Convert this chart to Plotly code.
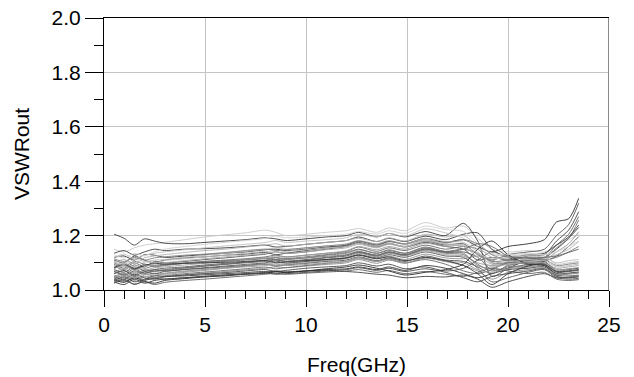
import plotly.graph_objects as go

freq_ghz = [0.5, 1.0, 1.5, 2.0, 2.5, 3.0, 4, 5, 6, 7, 8, 8.5, 9, 10, 11, 12, 12.6, 13.5, 14.1, 14.9, 15.9, 16.9, 17.8, 18.5, 19.2, 20, 21, 21.8, 22.4, 23, 23.5]

vswr_01 = [1.150, 1.140, 1.155, 1.165, 1.170, 1.175, 1.185, 1.195, 1.203, 1.210, 1.220, 1.212, 1.200, 1.205, 1.212, 1.218, 1.226, 1.212, 1.228, 1.218, 1.248, 1.228, 1.235, 1.190, 1.150, 1.140, 1.145, 1.140, 1.165, 1.185, 1.205]
vswr_02 = [1.205, 1.190, 1.165, 1.188, 1.180, 1.172, 1.170, 1.175, 1.180, 1.185, 1.192, 1.188, 1.182, 1.188, 1.195, 1.200, 1.212, 1.195, 1.208, 1.195, 1.215, 1.200, 1.245, 1.180, 1.050, 1.080, 1.110, 1.120, 1.150, 1.190, 1.230]
vswr_03 = [1.120, 1.125, 1.110, 1.130, 1.128, 1.120, 1.125, 1.130, 1.135, 1.140, 1.148, 1.150, 1.145, 1.150, 1.158, 1.165, 1.180, 1.165, 1.178, 1.170, 1.190, 1.175, 1.185, 1.160, 1.140, 1.160, 1.170, 1.185, 1.250, 1.262, 1.337]
vswr_04 = [1.095, 1.080, 1.100, 1.085, 1.105, 1.100, 1.105, 1.112, 1.118, 1.125, 1.132, 1.140, 1.135, 1.140, 1.150, 1.160, 1.172, 1.158, 1.170, 1.160, 1.180, 1.165, 1.170, 1.130, 1.110, 1.130, 1.140, 1.150, 1.200, 1.240, 1.319]
vswr_05 = [1.110, 1.100, 1.125, 1.110, 1.100, 1.110, 1.118, 1.122, 1.128, 1.132, 1.138, 1.130, 1.135, 1.145, 1.155, 1.162, 1.175, 1.160, 1.172, 1.158, 1.175, 1.160, 1.150, 1.110, 1.120, 1.110, 1.125, 1.130, 1.180, 1.220, 1.288]
vswr_06 = [1.080, 1.090, 1.075, 1.095, 1.085, 1.090, 1.098, 1.105, 1.110, 1.115, 1.122, 1.128, 1.122, 1.128, 1.135, 1.142, 1.158, 1.142, 1.155, 1.145, 1.165, 1.150, 1.160, 1.150, 1.100, 1.100, 1.115, 1.120, 1.165, 1.205, 1.270]
vswr_07 = [1.060, 1.070, 1.055, 1.075, 1.068, 1.072, 1.080, 1.088, 1.095, 1.102, 1.110, 1.118, 1.112, 1.118, 1.128, 1.135, 1.148, 1.135, 1.148, 1.135, 1.155, 1.140, 1.135, 1.090, 1.080, 1.105, 1.110, 1.115, 1.155, 1.190, 1.257]
vswr_08 = [1.135, 1.145, 1.128, 1.140, 1.150, 1.145, 1.150, 1.152, 1.155, 1.160, 1.165, 1.158, 1.160, 1.168, 1.175, 1.182, 1.195, 1.178, 1.190, 1.178, 1.198, 1.185, 1.205, 1.210, 1.150, 1.120, 1.130, 1.135, 1.165, 1.195, 1.239]
vswr_09 = [1.045, 1.060, 1.040, 1.055, 1.062, 1.058, 1.065, 1.072, 1.080, 1.088, 1.095, 1.100, 1.098, 1.105, 1.112, 1.120, 1.135, 1.122, 1.135, 1.125, 1.145, 1.130, 1.125, 1.100, 1.090, 1.095, 1.105, 1.110, 1.140, 1.170, 1.214]
vswr_10 = [1.070, 1.058, 1.078, 1.062, 1.075, 1.080, 1.085, 1.092, 1.098, 1.102, 1.108, 1.112, 1.105, 1.110, 1.118, 1.125, 1.138, 1.125, 1.138, 1.128, 1.150, 1.138, 1.140, 1.120, 1.075, 1.080, 1.095, 1.105, 1.125, 1.160, 1.196]
vswr_11 = [1.100, 1.112, 1.095, 1.118, 1.125, 1.130, 1.138, 1.145, 1.150, 1.158, 1.165, 1.170, 1.162, 1.168, 1.175, 1.182, 1.190, 1.178, 1.192, 1.180, 1.205, 1.195, 1.200, 1.160, 1.120, 1.115, 1.120, 1.118, 1.130, 1.150, 1.178]
vswr_12 = [1.088, 1.075, 1.092, 1.080, 1.090, 1.095, 1.100, 1.105, 1.108, 1.112, 1.118, 1.112, 1.115, 1.122, 1.130, 1.138, 1.150, 1.135, 1.145, 1.135, 1.158, 1.142, 1.150, 1.135, 1.105, 1.110, 1.118, 1.110, 1.120, 1.140, 1.160]
vswr_13 = [1.030, 1.020, 1.040, 1.025, 1.035, 1.040, 1.045, 1.050, 1.055, 1.060, 1.065, 1.070, 1.066, 1.070, 1.075, 1.078, 1.085, 1.075, 1.085, 1.072, 1.090, 1.080, 1.060, 1.045, 1.060, 1.075, 1.080, 1.085, 1.055, 1.060, 1.065]
vswr_14 = [1.040, 1.055, 1.035, 1.050, 1.045, 1.050, 1.056, 1.062, 1.068, 1.074, 1.080, 1.085, 1.082, 1.088, 1.094, 1.100, 1.112, 1.098, 1.110, 1.098, 1.118, 1.105, 1.090, 1.070, 1.040, 1.065, 1.075, 1.080, 1.050, 1.045, 1.050]
vswr_15 = [1.050, 1.040, 1.058, 1.045, 1.040, 1.048, 1.055, 1.060, 1.064, 1.070, 1.075, 1.068, 1.072, 1.080, 1.085, 1.090, 1.100, 1.088, 1.095, 1.078, 1.085, 1.070, 1.080, 1.110, 1.140, 1.120, 1.100, 1.105, 1.070, 1.075, 1.080]
vswr_16 = [1.065, 1.078, 1.060, 1.072, 1.082, 1.085, 1.092, 1.098, 1.105, 1.112, 1.118, 1.125, 1.120, 1.128, 1.135, 1.145, 1.160, 1.148, 1.160, 1.150, 1.172, 1.160, 1.165, 1.130, 1.095, 1.100, 1.105, 1.100, 1.080, 1.085, 1.090]
vswr_17 = [1.025, 1.035, 1.022, 1.030, 1.020, 1.028, 1.035, 1.040, 1.046, 1.052, 1.058, 1.062, 1.058, 1.062, 1.066, 1.070, 1.075, 1.065, 1.072, 1.060, 1.068, 1.058, 1.050, 1.065, 1.080, 1.070, 1.060, 1.065, 1.040, 1.035, 1.038]
vswr_18 = [1.120, 1.132, 1.115, 1.128, 1.135, 1.140, 1.148, 1.155, 1.162, 1.168, 1.175, 1.182, 1.175, 1.180, 1.185, 1.192, 1.205, 1.195, 1.208, 1.198, 1.225, 1.210, 1.190, 1.150, 1.130, 1.125, 1.130, 1.125, 1.095, 1.100, 1.105]
vswr_19 = [1.075, 1.065, 1.085, 1.070, 1.060, 1.068, 1.075, 1.080, 1.085, 1.090, 1.095, 1.088, 1.092, 1.098, 1.105, 1.110, 1.122, 1.108, 1.118, 1.105, 1.125, 1.110, 1.105, 1.085, 1.060, 1.090, 1.100, 1.095, 1.065, 1.068, 1.072]
vswr_20 = [1.055, 1.048, 1.065, 1.058, 1.052, 1.060, 1.068, 1.075, 1.082, 1.088, 1.095, 1.090, 1.094, 1.100, 1.108, 1.115, 1.128, 1.115, 1.125, 1.112, 1.132, 1.118, 1.115, 1.125, 1.110, 1.090, 1.085, 1.090, 1.060, 1.058, 1.062]
vswr_21 = [1.035, 1.048, 1.030, 1.040, 1.052, 1.050, 1.052, 1.056, 1.060, 1.064, 1.068, 1.062, 1.066, 1.070, 1.072, 1.068, 1.065, 1.058, 1.055, 1.045, 1.050, 1.048, 1.055, 1.040, 1.010, 1.030, 1.050, 1.060, 1.045, 1.040, 1.042]
vswr_22 = [1.090, 1.100, 1.085, 1.102, 1.110, 1.112, 1.120, 1.128, 1.135, 1.142, 1.150, 1.155, 1.150, 1.155, 1.162, 1.170, 1.182, 1.170, 1.182, 1.170, 1.190, 1.178, 1.175, 1.140, 1.100, 1.105, 1.112, 1.108, 1.085, 1.090, 1.095]
vswr_23 = [1.045, 1.032, 1.050, 1.038, 1.045, 1.052, 1.060, 1.066, 1.072, 1.078, 1.084, 1.078, 1.082, 1.090, 1.098, 1.105, 1.118, 1.105, 1.115, 1.100, 1.112, 1.095, 1.070, 1.060, 1.075, 1.100, 1.095, 1.092, 1.055, 1.052, 1.055]
vswr_24 = [1.100, 1.088, 1.105, 1.095, 1.088, 1.092, 1.098, 1.102, 1.106, 1.110, 1.115, 1.120, 1.115, 1.118, 1.124, 1.130, 1.142, 1.128, 1.140, 1.128, 1.148, 1.135, 1.130, 1.095, 1.070, 1.085, 1.090, 1.100, 1.075, 1.078, 1.082]
vswr_25 = [1.038, 1.028, 1.045, 1.032, 1.025, 1.035, 1.042, 1.048, 1.052, 1.058, 1.062, 1.068, 1.064, 1.070, 1.078, 1.085, 1.092, 1.080, 1.070, 1.055, 1.065, 1.075, 1.095, 1.150, 1.180, 1.130, 1.095, 1.090, 1.060, 1.062, 1.066]
vswr_26 = [1.078, 1.090, 1.072, 1.085, 1.095, 1.100, 1.108, 1.115, 1.122, 1.128, 1.135, 1.140, 1.135, 1.140, 1.148, 1.155, 1.168, 1.155, 1.168, 1.158, 1.180, 1.168, 1.160, 1.120, 1.085, 1.095, 1.100, 1.098, 1.070, 1.072, 1.075]
vswr_27 = [1.060, 1.072, 1.052, 1.068, 1.075, 1.070, 1.076, 1.082, 1.088, 1.094, 1.100, 1.106, 1.100, 1.105, 1.112, 1.118, 1.130, 1.118, 1.130, 1.120, 1.140, 1.125, 1.120, 1.080, 1.030, 1.045, 1.065, 1.075, 1.045, 1.048, 1.052]
vswr_28 = [1.130, 1.118, 1.135, 1.125, 1.140, 1.150, 1.160, 1.168, 1.175, 1.182, 1.190, 1.198, 1.192, 1.195, 1.200, 1.205, 1.215, 1.205, 1.218, 1.208, 1.235, 1.222, 1.215, 1.170, 1.135, 1.130, 1.135, 1.130, 1.140, 1.160, 1.180]
vswr_29 = [1.028, 1.040, 1.020, 1.035, 1.042, 1.040, 1.045, 1.050, 1.055, 1.058, 1.062, 1.058, 1.060, 1.065, 1.070, 1.075, 1.082, 1.072, 1.080, 1.068, 1.078, 1.065, 1.045, 1.030, 1.050, 1.060, 1.070, 1.078, 1.050, 1.045, 1.048]
vswr_30 = [1.115, 1.105, 1.120, 1.110, 1.118, 1.122, 1.128, 1.132, 1.138, 1.145, 1.150, 1.145, 1.148, 1.155, 1.162, 1.168, 1.180, 1.168, 1.180, 1.168, 1.185, 1.172, 1.185, 1.170, 1.130, 1.110, 1.108, 1.112, 1.090, 1.095, 1.100]
vswr_31 = [1.050, 1.062, 1.045, 1.060, 1.055, 1.062, 1.070, 1.076, 1.080, 1.085, 1.090, 1.095, 1.090, 1.094, 1.100, 1.105, 1.115, 1.105, 1.112, 1.100, 1.118, 1.105, 1.100, 1.075, 1.065, 1.078, 1.085, 1.082, 1.058, 1.060, 1.064]
vswr_32 = [1.082, 1.095, 1.078, 1.090, 1.098, 1.095, 1.098, 1.100, 1.102, 1.105, 1.108, 1.100, 1.104, 1.108, 1.112, 1.118, 1.128, 1.115, 1.122, 1.108, 1.120, 1.108, 1.090, 1.060, 1.020, 1.060, 1.088, 1.095, 1.068, 1.070, 1.075]
vswr_33 = [1.105, 1.095, 1.112, 1.105, 1.100, 1.108, 1.115, 1.122, 1.128, 1.135, 1.142, 1.138, 1.142, 1.148, 1.155, 1.160, 1.172, 1.160, 1.172, 1.160, 1.182, 1.170, 1.165, 1.135, 1.115, 1.120, 1.125, 1.120, 1.100, 1.108, 1.112]
vswr_34 = [1.068, 1.055, 1.070, 1.062, 1.070, 1.075, 1.082, 1.088, 1.094, 1.100, 1.105, 1.110, 1.106, 1.112, 1.120, 1.128, 1.140, 1.128, 1.140, 1.130, 1.152, 1.140, 1.150, 1.170, 1.160, 1.125, 1.118, 1.120, 1.125, 1.138, 1.150]

all_curves = [vswr_01, vswr_02, vswr_03, vswr_04, vswr_05, vswr_06, vswr_07, vswr_08, vswr_09, vswr_10,
              vswr_11, vswr_12, vswr_13, vswr_14, vswr_15, vswr_16, vswr_17, vswr_18, vswr_19, vswr_20,
              vswr_21, vswr_22, vswr_23, vswr_24, vswr_25, vswr_26, vswr_27, vswr_28, vswr_29, vswr_30,
              vswr_31, vswr_32, vswr_33, vswr_34]

line_colors = ["#c8c8c8", "#3a3a3a", "#2e2e2e", "#555555", "#444444", "#666666", "#777777", "#3c3c3c", "#999999", "#5a5a5a",
               "#b0b0b0", "#707070", "#333333", "#888888", "#4a4a4a", "#a0a0a0", "#606060", "#c0c0c0", "#505050", "#909090",
               "#3f3f3f", "#b8b8b8", "#686868", "#7a7a7a", "#2a2a2a", "#a8a8a8", "#585858", "#d0d0d0", "#484848", "#808080",
               "#9a9a9a", "#353535", "#bcbcbc", "#626262"]

FONT = "Liberation Sans, Arial, sans-serif"

fig = go.Figure()
for ys, col in zip(all_curves, line_colors):
    fig.add_trace(go.Scatter(x=freq_ghz, y=ys, mode="lines",
                             line=dict(color=col, width=0.9, shape="spline", smoothing=0.8),
                             showlegend=False, hoverinfo="skip"))

fig.add_shape(type="line", xref="x", yref="y", x0=25, x1=25, y0=1.0, y1=2.0,
              line=dict(color="#8a8a8a", width=2), layer="above")

fig.update_layout(
    width=634, height=377,
    margin=dict(l=104, r=25, t=18, b=87, autoexpand=False),
    paper_bgcolor="white", plot_bgcolor="white",
    font=dict(family=FONT, size=21, color="black"),
    xaxis=dict(range=[0, 25], tickmode="linear", tick0=0, dtick=5, automargin=False,
               ticks="outside", ticklen=16, tickwidth=1, tickcolor="black",
               showline=True, linecolor="black", linewidth=1, mirror=True,
               showgrid=True, gridcolor="#c4c4c4", gridwidth=1, zeroline=False,
               minor=dict(tickmode="linear", dtick=1, ticks="outside", ticklen=8, tickcolor="black", showgrid=False),
               tickfont=dict(size=21, family=FONT, color="black"),
               title=dict(text="Freq(GHz)", font=dict(size=21, family=FONT, color="black"), standoff=22)),
    yaxis=dict(range=[1.0, 2.0], tickmode="linear", tick0=1.0, dtick=0.2, tickformat=".1f", automargin=False,
               ticks="outside", ticklen=18, tickwidth=1, tickcolor="black",
               showline=True, linecolor="black", linewidth=1, mirror=False,
               showgrid=True, gridcolor="#c4c4c4", gridwidth=1, zeroline=False,
               minor=dict(tickmode="linear", dtick=0.1, ticks="outside", ticklen=9, tickcolor="black", showgrid=False),
               tickfont=dict(size=21, family=FONT, color="black"),
               title=dict(text="VSWRout", font=dict(size=21, family=FONT, color="black"), standoff=16)),
)

fig.write_html("out.html", config={"displayModeBar": False, "staticPlot": True},
               post_script="document.body.style.margin='0';document.body.style.padding='0';document.body.style.overflow='hidden';")
